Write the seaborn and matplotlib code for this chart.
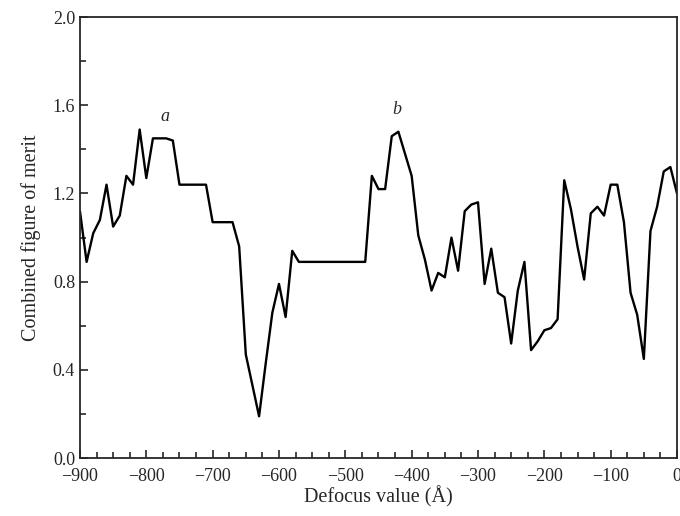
import seaborn as sns, matplotlib.pyplot as plt, pandas as pd
from matplotlib.ticker import MultipleLocator

defocus = [-900, -890, -880, -870, -860, -850, -840, -830, -820, -810, -800,
           -790, -770, -760, -750, -710, -700, -670, -660, -650, -640, -630,
           -620, -610, -600, -590, -580, -570, -470, -460, -450, -440, -430,
           -420, -400, -390, -380, -370, -360, -350, -340, -330, -320, -310,
           -300, -290, -280, -270, -260, -250, -240, -230, -220, -210, -200,
           -190, -180, -170, -160, -150, -140, -130, -120, -110, -100, -90,
           -80, -70, -60, -50, -40, -30, -20, -10, 0]
merit = [1.12, 0.89, 1.02, 1.08, 1.24, 1.05, 1.10, 1.28, 1.24, 1.49, 1.27,
         1.45, 1.45, 1.44, 1.24, 1.24, 1.07, 1.07, 0.96, 0.47, 0.33, 0.19,
         0.43, 0.66, 0.79, 0.64, 0.94, 0.89, 0.89, 1.28, 1.22, 1.22, 1.46,
         1.48, 1.28, 1.01, 0.90, 0.76, 0.84, 0.82, 1.00, 0.85, 1.12, 1.15,
         1.16, 0.79, 0.95, 0.75, 0.73, 0.52, 0.76, 0.89, 0.49, 0.53, 0.58,
         0.59, 0.63, 1.26, 1.13, 0.96, 0.81, 1.11, 1.14, 1.10, 1.24, 1.24,
         1.07, 0.75, 0.65, 0.45, 1.03, 1.14, 1.30, 1.32, 1.20]

peak_labels = ["a", "b"]
peak_x = [-772, -422]
peak_y = [1.51, 1.54]

df = pd.DataFrame({"defocus": defocus, "merit": merit})

sns.set_style("ticks")
plt.rcParams["font.family"] = ["Liberation Serif", "DejaVu Serif"]

fig = plt.figure(figsize=(6.8, 5.16), dpi=100)
ax = fig.add_axes([0.1176, 0.112, 0.8780, 0.855])
sns.lineplot(data=df, x="defocus", y="merit", ax=ax, color="black", lw=1.7)

for t, x, y in zip(peak_labels, peak_x, peak_y):
    ax.text(x, y, t, style="italic", fontsize=13, ha="center", va="bottom")

ax.set_xlim(-900, 0)
ax.set_ylim(0, 2.0)
ax.xaxis.set_major_locator(MultipleLocator(100))
ax.xaxis.set_minor_locator(MultipleLocator(25))
ax.yaxis.set_major_locator(MultipleLocator(0.4))
ax.yaxis.set_minor_locator(MultipleLocator(0.2))
ax.yaxis.set_major_formatter(plt.FuncFormatter(lambda v, p: f"{v:.1f}"))
ax.xaxis.set_major_formatter(plt.FuncFormatter(lambda v, p: f"{v:.0f}".replace("-", "\u2212")))
ax.tick_params(which="both", direction="in", labelsize=13, width=1.2)
ax.tick_params(axis="x", which="both", pad=7)
ax.tick_params(which="major", length=6)
ax.tick_params(which="minor", length=4)
for s in ax.spines.values():
    s.set_linewidth(1.3)
ax.set_xlabel("Defocus value (Å)", fontsize=14.5, labelpad=1)
ax.set_ylabel("Combined figure of merit", fontsize=14.5, labelpad=8)

fig.savefig("out.png", dpi=100)
